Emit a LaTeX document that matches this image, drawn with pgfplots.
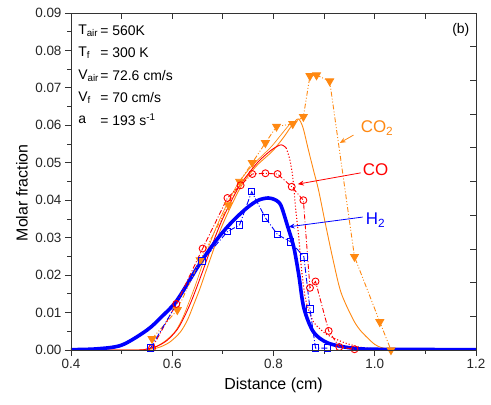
\documentclass[border=0pt]{standalone}
\usepackage{pgfplots}
\pgfplotsset{compat=1.18}
\usepackage{fontspec}
\setmainfont{Liberation Sans}
\usetikzlibrary{arrows.meta}
\definecolor{cotwo}{RGB}{255,136,17}
\definecolor{cored}{RGB}{255,0,0}
\definecolor{htwo}{RGB}{0,0,255}
\begin{document}
\begin{tikzpicture}
\begin{axis}[
  scale only axis, width=405bp, height=337bp,
  xmin=0.4, xmax=1.2, ymin=0, ymax=0.09,
  scaled ticks=false,
  axis line style={line width=0.9pt, black!80},
  xtick={0.4,0.6,0.8,1.0,1.2},
  xticklabels={0.4,0.6,0.8,1.0,1.2},
  minor xtick={0.5,0.7,0.9,1.1},
  ytick={0,0.01,...,0.09},
  yticklabels={0.00,0.01,0.02,0.03,0.04,0.05,0.06,0.07,0.08,0.09},
  minor ytick={0.005,0.015,...,0.085},
  xtick pos=bottom, ytick pos=left,
  tick align=outside,
  major tick length=6bp, minor tick length=3.5bp,
  tick style={line width=0.8pt, black!80},
  ticklabel style={font=\fontsize{13.5}{15}\selectfont, text=black!85},
  /pgf/number format/assume math mode=true,
  xlabel={Distance (cm)}, ylabel={Molar fraction},
  label style={font=\fontsize{16}{18}\selectfont},
  xlabel style={at={(axis description cs:0.5,-0.104)}, anchor=center},
  ylabel style={at={(axis description cs:-0.121,0.466)}, anchor=center},
  clip=true,
]
% Orange model (CO2)
\addplot[cotwo, line width=0.9pt, smooth] coordinates {
(0.40,0) (0.53,0) (0.556,0.0002) (0.576,0.0008) (0.596,0.0022) (0.616,0.0048) (0.630,0.0080) (0.642,0.0120)
(0.655,0.0165) (0.667,0.0212) (0.680,0.0262) (0.692,0.0310) (0.705,0.0352) (0.72,0.0395) (0.735,0.0435)
(0.75,0.0465) (0.768,0.0494) (0.785,0.0515) (0.800,0.0534) (0.82,0.0568) (0.838,0.0603) (0.849,0.0617)
(0.858,0.0595) (0.869,0.0534) (0.879,0.0480) (0.889,0.0427) (0.903,0.0334) (0.917,0.0245)
(0.933,0.0155) (0.956,0.0085) (0.970,0.0055) (0.986,0.0032) (1.000,0.0015) (1.012,0.0007) (1.03,0.0002) (1.06,0) (1.2,0)};
\addplot[cotwo, line width=0.7pt, smooth] coordinates {
(0.545,0) (0.566,0.0008) (0.586,0.0024) (0.606,0.0050) (0.620,0.0084) (0.632,0.0124)
(0.645,0.0170) (0.657,0.0218) (0.670,0.0268) (0.683,0.0315) (0.697,0.0358) (0.712,0.0400) (0.728,0.0440)
(0.745,0.0472) (0.763,0.0500) (0.780,0.0522) (0.797,0.0545) (0.815,0.0575) (0.835,0.0608)};
% Red model (CO)
\addplot[cored, line width=0.9pt, smooth] coordinates {
(0.40,0) (0.53,0) (0.55,0.0003) (0.57,0.0010) (0.59,0.0026) (0.61,0.0055) (0.625,0.0092) (0.64,0.0138)
(0.66,0.0210) (0.68,0.0285) (0.70,0.0352) (0.73,0.0432) (0.75,0.0470) (0.768,0.0500)
(0.785,0.0522) (0.80,0.0538) (0.815,0.0548) (0.825,0.0540)};
\addplot[cored, line width=1.1pt, dotted, smooth] coordinates {
(0.825,0.0540) (0.832,0.0510) (0.838,0.0462) (0.844,0.0374) (0.850,0.0300) (0.855,0.0220)
(0.862,0.0145) (0.870,0.0105) (0.879,0.0075) (0.893,0.0055) (0.907,0.0040) (0.939,0.0020)
(0.97,0.0008) (1.0,0.0003) (1.05,0) (1.2,0)};
% Blue model (H2)
\addplot[htwo, line width=3.6pt, smooth] coordinates {
(0.40,0.0001) (0.45,0.0003) (0.50,0.0013) (0.55,0.0053) (0.58,0.0090) (0.61,0.0134)
(0.655,0.0232) (0.691,0.0300) (0.72,0.0345) (0.748,0.0380) (0.77,0.0400) (0.79,0.0406)
(0.805,0.0400) (0.815,0.0385) (0.828,0.0330) (0.840,0.0275) (0.850,0.0200) (0.860,0.0112)
(0.879,0.0048) (0.907,0.0019) (0.95,0.0006) (1.0,0.0002) (1.2,0.0001)};
% CO2 experiment
\addplot[cotwo, line width=0.9pt, dash pattern=on 5pt off 2pt on 1pt off 2pt on 1pt off 2pt,
  mark=triangle*, mark size=4.5pt, mark options={solid, rotate=180, fill=cotwo}] coordinates {
(0.560,0.0030) (0.610,0.0107) (0.655,0.0240) (0.711,0.0387) (0.733,0.0450) (0.758,0.0500)
(0.784,0.0553) (0.806,0.0597) (0.838,0.0604) (0.859,0.0623) (0.872,0.0732) (0.885,0.0734)
(0.911,0.0718) (0.960,0.0249) (1.010,0.0075) (1.032,0.0000)};
% CO experiment
\addplot[cored, line width=0.9pt, dash pattern=on 5pt off 2pt on 1pt off 2pt,
  mark=o, mark size=3.5pt, mark options={solid}] coordinates {
(0.560,0.0005) (0.608,0.0123) (0.660,0.0271) (0.709,0.0406) (0.735,0.0440) (0.758,0.0470)
(0.784,0.0472) (0.808,0.0470) (0.836,0.0436) (0.859,0.0400) (0.872,0.0166) (0.883,0.0183)
(0.909,0.0051) (0.93,0.0008) (0.96,0.0002)};
% H2 experiment
\addplot[htwo, line width=0.9pt, dash pattern=on 6pt off 2pt on 1pt off 2pt,
  mark=square, mark size=3.2pt, mark options={solid}] coordinates {
(0.557,0.0005) (0.659,0.0238) (0.709,0.0316) (0.733,0.0334) (0.757,0.0423) (0.784,0.0353)
(0.808,0.0308) (0.834,0.0289) (0.860,0.0249) (0.872,0.0110) (0.883,0.0005) (0.907,0.0005)};
% annotations
\begin{scope}[font=\fontsize{14}{16}\selectfont]
\node[anchor=west, inner sep=0] at (axis cs:0.414,0.0853) {T\textsubscript{air}};
\node[anchor=west, inner sep=0] at (axis cs:0.4574,0.0853) {= 560K};
\node[anchor=west, inner sep=0] at (axis cs:0.414,0.0793) {T\textsubscript{f}};
\node[anchor=west, inner sep=0] at (axis cs:0.4574,0.0793) {= 300 K};
\node[anchor=west, inner sep=0] at (axis cs:0.414,0.0732) {V\textsubscript{air}};
\node[anchor=west, inner sep=0] at (axis cs:0.4574,0.0732) {= 72.6 cm/s};
\node[anchor=west, inner sep=0] at (axis cs:0.414,0.0673) {V\textsubscript{f}};
\node[anchor=west, inner sep=0] at (axis cs:0.4574,0.0673) {= 70 cm/s};
\node[anchor=west, inner sep=0] at (axis cs:0.414,0.0614) {a};
\node[anchor=west, inner sep=0] at (axis cs:0.4574,0.0614) {= 193 s\textsuperscript{-1}};
\node[anchor=center, inner sep=0] at (axis cs:1.170,0.0855) {(b)};
\end{scope}
\begin{scope}[font=\fontsize{17}{19}\selectfont]
\draw[cotwo, line width=0.8pt, -{Stealth[length=6pt,width=5pt]}] (axis cs:0.958,0.0574) -- (axis cs:0.931,0.0553);
\node[cotwo, anchor=west, inner sep=0] at (axis cs:0.972,0.0593) {CO\textsubscript{2}};
\draw[cored, line width=0.8pt, -{Stealth[length=6pt,width=5pt]}] (axis cs:0.972,0.0473) -- (axis cs:0.848,0.0443);
\node[cored, anchor=west, inner sep=0] at (axis cs:0.976,0.0481) {CO};
\draw[htwo, line width=0.8pt, -{Stealth[length=6pt,width=5pt]}] (axis cs:0.976,0.0355) -- (axis cs:0.830,0.0329);
\node[htwo, anchor=west, inner sep=0] at (axis cs:0.982,0.0347) {H\textsubscript{2}};
\end{scope}
\end{axis}
% mirror axes with inward ticks
\begin{axis}[
  scale only axis, width=405bp, height=337bp,
  xmin=0.4, xmax=1.2, ymin=0, ymax=0.09,
  scaled ticks=false,
  axis line style={line width=0.9pt, black!80},
  xtick={0.4,0.5,...,1.2}, ytick={0,0.009,...,0.09},
  xticklabels={}, yticklabels={},
  xtick pos=top, ytick pos=right,
  tick align=inside, major tick length=6bp,
  tick style={line width=0.8pt, black!80},
]
\end{axis}
\pgfresetboundingbox
\useasboundingbox (-71bp,-55bp) rectangle (420bp,350bp);
\end{tikzpicture}
\end{document}
